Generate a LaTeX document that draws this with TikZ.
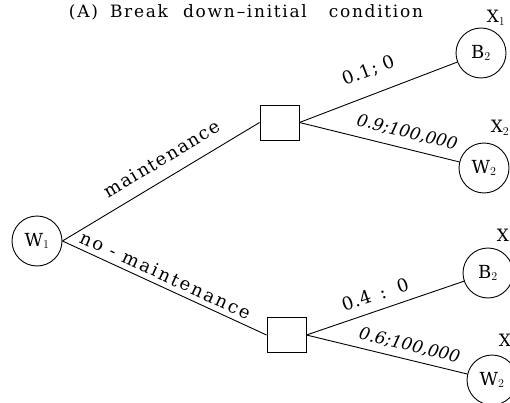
\documentclass[tikz,border=0pt]{standalone}
\usepackage{fontspec}
\setmainfont{DejaVu Serif}
\usepackage{tikz}

\begin{document}
\begin{tikzpicture}[x=1pt,y=-1pt,line width=0.9pt,
    chance/.style={draw,circle,minimum size=50pt,inner sep=0pt,font=\fontsize{18}{20}\selectfont},
    decision/.style={draw,minimum width=39pt,minimum height=35pt,inner sep=0pt},
    arm/.style={sloped,above,inner sep=5pt,font=\fontsize{18}{20}\selectfont\addfontfeatures{LetterSpace=8}},
    armwide/.style={arm,font=\fontsize{18}{20}\selectfont\addfontfeatures{LetterSpace=12}},
    prob/.style={sloped,above,inner sep=8pt,font=\fontsize{17}{20}\selectfont\itshape},
    probup/.style={prob,font=\fontsize{18}{20}\selectfont\addfontfeatures{LetterSpace=4}},
    tag/.style={font=\fontsize{17}{20}\selectfont}]
  \useasboundingbox (0,0) rectangle (510,403);
  \node[font=\fontsize{17}{20}\selectfont\addfontfeatures{LetterSpace=10}] (title) at (246,12)
    {(A)\hspace{5pt} Break\hspace{8pt} down\hspace{2pt}--initial\hspace{15pt} condition};
  \node[chance] (w1) at (37,241) {W$_1$};
  \node[decision] (d1) at (279.5,122.5) {};
  \node[decision] (d2) at (286.5,335) {};
  \node[chance] (b2a) at (481,53) {B$_2$};
  \node[chance] (w2a) at (484,168) {W$_2$};
  \node[chance] (b2b) at (488,273) {B$_2$};
  \node[chance] (w2b) at (492,380) {W$_2$};
  \node[tag] (x1) at (496,18) {X$_1$};
  \node[tag] (x2) at (500,128) {X$_2$};
  \node[tag] (x3) at (503,235) {X};
  \node[tag] (x4) at (505,340) {X};

  \draw (w1.east) -- node[arm,pos=0.555,inner sep=12pt] {maintenance} (d1.west);
  \draw (w1.east) -- node[armwide,pos=0.48] {no - maintenance} (d2.west);
  \draw (d1.east) -- node[probup,pos=0.49,inner sep=15pt] {0.1; 0} (b2a);
  \draw (d1.east) -- node[prob,pos=0.65] {0.9;100,000} (w2a);
  \draw (d2.east) -- node[probup,pos=0.47,inner sep=9pt] {0.4\hspace{3pt} :\hspace{4pt} 0} (b2b);
  \draw (d2.east) -- node[prob,pos=0.62,inner sep=6pt] {0.6;100,000} (w2b);
\end{tikzpicture}
\end{document}
